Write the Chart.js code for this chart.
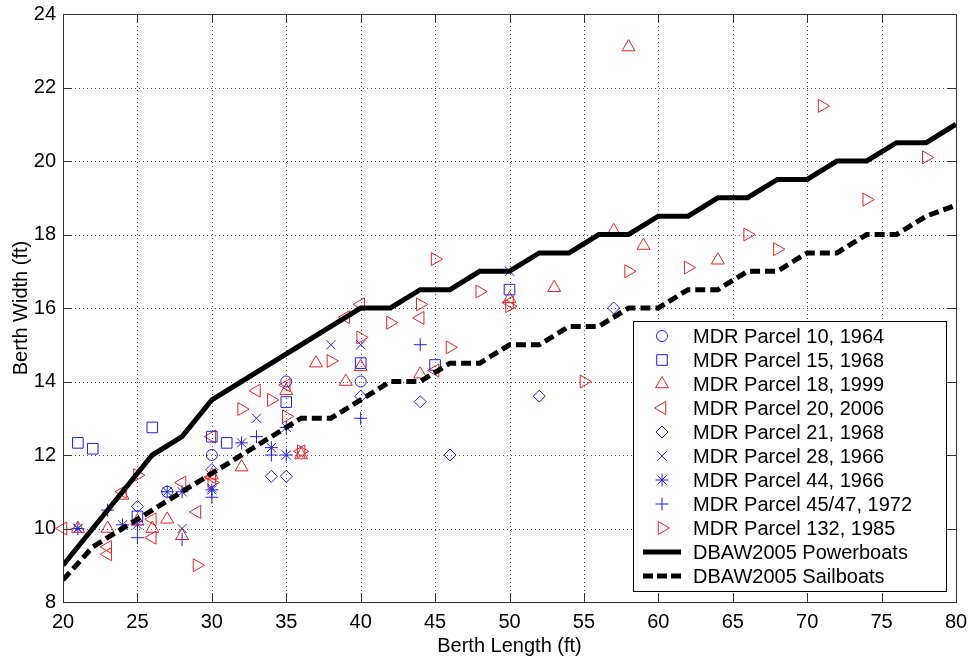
<!DOCTYPE html>
<html>
<head>
<meta charset="utf-8">
<title>Berth Width vs Berth Length</title>
<script src="https://cdn.jsdelivr.net/npm/chart.js@4.4.1/dist/chart.umd.min.js"></script>
<style>
    html, body { margin: 0; padding: 0; background: #fff; }
    #wrap { width: 971px; height: 659px; }
</style>
</head>
<body>
<div id="wrap"><canvas id="berthChart" width="971" height="659"></canvas></div>
<script>
// DBAW 2005 guideline curves
const guideLength = [20, 22, 24, 26, 28, 30, 32, 34, 36, 38, 40, 42, 44, 46, 48, 50,
                     52, 54, 56, 58, 60, 62, 64, 66, 68, 70, 72, 74, 76, 78, 80];
const powerWidth = [9, 10, 11, 12, 12.5, 13.5, 14, 14.5, 15, 15.5, 16, 16, 16.5, 16.5, 17, 17,
                    17.5, 17.5, 18, 18, 18.5, 18.5, 19, 19, 19.5, 19.5, 20, 20, 20.5, 20.5, 21];
const sailWidth = [8.6, 9.5, 10, 10.5, 11, 11.5, 12, 12.5, 13, 13, 13.5, 14, 14, 14.5, 14.5, 15,
                   15, 15.5, 15.5, 16, 16, 16.5, 16.5, 17, 17, 17.5, 17.5, 18, 18, 18.5, 18.8];

// Marina del Rey parcels: [berth length, berth width]
const parcel10 = [[27, 11], [30, 12], [35, 14], [40, 14]];
const parcel15 = [[21, 12.33], [22, 12.17], [26, 12.75], [25, 10.33], [30, 12.5], [31, 12.33],
                  [35, 13.44], [40, 14.5], [45, 14.45], [50, 16.5]];
const parcel18 = [[21, 10], [23, 10], [24, 10.9], [25, 10.2], [26, 10], [27, 10.25], [28, 9.8],
                  [30, 11.45], [32, 11.67], [35, 13.75], [36, 12], [37, 14.5], [39, 14], [40, 14.4],
                  [44, 14.2], [50, 16.25], [53, 16.55], [57, 18.1], [58, 23.1], [59, 17.7], [64, 17.3]];
const parcel20 = [[20, 10], [23, 9.5], [23, 9.3], [24, 11], [26, 10.25], [26, 9.75], [28, 11.25],
                  [29, 10.45], [30, 12.5], [30, 11.4], [33, 13.75], [35, 13.9], [36, 12.1],
                  [39, 15.75], [40, 16.1], [44, 15.73], [45, 14.3], [50, 16.15]];
const parcel21 = [[25, 10.6], [30, 11.6], [34, 11.42], [35, 11.42], [40, 13.6], [44, 13.45],
                  [46, 12], [52, 13.6], [57, 16]];
const parcel28 = [[21, 10], [28, 10], [30, 11.1], [33, 13], [38, 15], [40, 15], [50, 17]];
const parcel44 = [[21, 10], [24, 10.1], [25, 10.1], [27, 11], [28, 11], [30, 11.05], [32, 12.33],
                  [34, 12.2], [35, 12.75], [35, 12]];
const parcel4547 = [[23, 10.5], [25, 9.75], [28, 9.7], [30, 10.85], [33, 12.5], [34, 12],
                    [40, 13], [44, 15]];
const parcel132 = [[25, 11.45], [29, 9], [30, 11.25], [32, 13.25], [34, 13.5], [35, 13.05],
                   [36, 12.1], [38, 14.56], [40, 15.2], [42, 15.6], [44, 16.1], [45, 17.33],
                   [46, 14.93], [48, 16.45], [50, 16.05], [55, 14], [58, 17], [62, 17.1],
                   [66, 18], [68, 17.6], [71, 21.5], [74, 18.95], [78, 20.1]];

const xTicks = [20, 25, 30, 35, 40, 45, 50, 55, 60, 65, 70, 75, 80];
const yTicks = [8, 10, 12, 14, 16, 18, 20, 22, 24];

const BLUE = '#1f1fe0';
const RED = '#e02525';
const FONT = '"Liberation Sans", Arial, sans-serif';

function toPoints(pairs) {
    return pairs.map(p => ({ x: p[0], y: p[1] }));
}

function markerSet(label, pairs, style, rotation, radius, color) {
    return {
        label: label,
        data: toPoints(pairs),
        showLine: false,
        pointStyle: style,
        rotation: rotation,
        pointRadius: radius,
        pointHoverRadius: radius,
        pointBorderWidth: 1,
        pointBackgroundColor: 'rgba(0,0,0,0)',
        pointBorderColor: color,
        borderColor: color,
        clip: false,
        order: 1
    };
}

function lineSet(label, ys, dash) {
    return {
        label: label,
        data: guideLength.map((x, i) => ({ x: x, y: ys[i] })),
        showLine: true,
        borderColor: '#000',
        borderWidth: 5,
        borderDash: dash,
        borderCapStyle: 'butt',
        borderJoinStyle: 'miter',
        pointRadius: 0,
        fill: false,
        order: 0,
        legendLine: true
    };
}

const datasets = [
    markerSet('MDR Parcel 10, 1964', parcel10, 'circle', 0, 5.5, BLUE),
    markerSet('MDR Parcel 15, 1968', parcel15, 'rect', 0, 7.5, BLUE),
    markerSet('MDR Parcel 18, 1999', parcel18, 'triangle', 0, 7.5, RED),
    markerSet('MDR Parcel 20, 2006', parcel20, 'triangle', -90, 7.5, RED),
    markerSet('MDR Parcel 21, 1968', parcel21, 'rectRot', 0, 6, BLUE),
    markerSet('MDR Parcel 28, 1966', parcel28, 'crossRot', 0, 6.5, BLUE),
    markerSet('MDR Parcel 44, 1966', parcel44, 'star', 0, 6.5, BLUE),
    markerSet('MDR Parcel 45/47, 1972', parcel4547, 'cross', 0, 6.5, BLUE),
    markerSet('MDR Parcel 132, 1985', parcel132, 'triangle', 90, 7.5, RED),
    lineSet('DBAW2005 Powerboats', powerWidth, []),
    lineSet('DBAW2005 Sailboats', sailWidth, [10, 5])
];

// MATLAB-style dotted grid, full box and inward ticks
const matlabAxes = {
    id: 'matlabAxes',
    beforeDatasetsDraw(chart) {
        const { ctx, chartArea: a, scales: { x, y } } = chart;
        ctx.save();
        ctx.strokeStyle = '#555';
        ctx.lineWidth = 1;
        ctx.setLineDash([1, 3]);
        ctx.beginPath();
        xTicks.slice(1, -1).forEach(v => {
            const px = Math.round(x.getPixelForValue(v)) + 0.5;
            ctx.moveTo(px, a.top);
            ctx.lineTo(px, a.bottom);
        });
        yTicks.slice(1, -1).forEach(v => {
            const py = Math.round(y.getPixelForValue(v)) + 0.5;
            ctx.moveTo(a.left, py);
            ctx.lineTo(a.right, py);
        });
        ctx.stroke();
        ctx.restore();
    },
    afterDatasetsDraw(chart) {
        const { ctx, chartArea: a, scales: { x, y } } = chart;
        const len = 9;
        ctx.save();
        ctx.strokeStyle = '#333';
        ctx.lineWidth = 1;
        ctx.beginPath();
        xTicks.forEach(v => {
            const px = Math.round(x.getPixelForValue(v)) + 0.5;
            ctx.moveTo(px, a.bottom);
            ctx.lineTo(px, a.bottom - len);
            ctx.moveTo(px, a.top);
            ctx.lineTo(px, a.top + len);
        });
        yTicks.forEach(v => {
            const py = Math.round(y.getPixelForValue(v)) + 0.5;
            ctx.moveTo(a.left, py);
            ctx.lineTo(a.left + len, py);
            ctx.moveTo(a.right, py);
            ctx.lineTo(a.right - len, py);
        });
        ctx.stroke();
        ctx.strokeRect(Math.round(a.left) + 0.5, Math.round(a.top) + 0.5,
                       Math.round(a.right - a.left), Math.round(a.bottom - a.top));
        ctx.restore();
    }
};

// legend box in the lower right corner of the axes
const boxLegend = {
    id: 'boxLegend',
    afterDraw(chart) {
        const { ctx, chartArea: a } = chart;
        const left = a.right - 323;
        const top = a.bottom - 281;
        const width = 313;
        const height = 270;
        ctx.save();
        ctx.fillStyle = '#fff';
        ctx.fillRect(left, top, width, height);
        ctx.strokeStyle = '#000';
        ctx.lineWidth = 1;
        ctx.setLineDash([]);
        ctx.strokeRect(Math.round(left) + 0.5, Math.round(top) + 0.5, width, height);

        chart.data.datasets.forEach((ds, i) => {
            const cy = top + 15 + i * 24;
            if (ds.legendLine) {
                ctx.save();
                ctx.strokeStyle = '#000';
                ctx.lineWidth = 5;
                ctx.setLineDash(ds.borderDash.length ? [10, 4] : []);
                ctx.beginPath();
                ctx.moveTo(left + 10, cy);
                ctx.lineTo(left + 48, cy);
                ctx.stroke();
                ctx.restore();
            } else {
                ctx.save();
                ctx.strokeStyle = ds.pointBorderColor;
                ctx.fillStyle = 'rgba(0,0,0,0)';
                ctx.lineWidth = 1;
                Chart.helpers.drawPoint(ctx, {
                    pointStyle: ds.pointStyle,
                    rotation: ds.rotation,
                    radius: ds.pointRadius,
                    borderWidth: 1
                }, left + 29, cy);
                ctx.restore();
            }
            ctx.fillStyle = '#000';
            ctx.font = '20px ' + FONT;
            ctx.textAlign = 'left';
            ctx.textBaseline = 'middle';
            ctx.fillText(ds.label, left + 60, cy + 1);
        });
        ctx.restore();
    }
};

const ctx = document.getElementById('berthChart').getContext('2d');
new Chart(ctx, {
    type: 'scatter',
    data: { datasets: datasets },
    options: {
        responsive: false,
        animation: false,
        devicePixelRatio: 1,
        layout: { padding: { left: 0, right: 15, top: 14, bottom: 0 } },
        plugins: {
            legend: { display: false },
            tooltip: { enabled: false }
        },
        scales: {
            x: {
                type: 'linear',
                min: 20,
                max: 80,
                afterBuildTicks: scale => { scale.ticks = xTicks.map(v => ({ value: v })); },
                afterFit: scale => {
                    scale.height = 57;
                    scale.paddingLeft = 0;
                    scale.paddingRight = 0;
                },
                grid: { display: false, drawTicks: false },
                border: { display: false },
                ticks: {
                    padding: 8,
                    color: '#000',
                    font: { family: FONT, size: 20 },
                    maxRotation: 0
                },
                title: {
                    display: true,
                    text: 'Berth Length (ft)',
                    color: '#000',
                    font: { family: FONT, size: 20 },
                    padding: { top: 0, bottom: 1 }
                }
            },
            y: {
                type: 'linear',
                min: 8,
                max: 24,
                afterBuildTicks: scale => { scale.ticks = yTicks.map(v => ({ value: v })); },
                afterFit: scale => {
                    scale.width = 63;
                    scale.paddingTop = 0;
                    scale.paddingBottom = 0;
                },
                grid: { display: false, drawTicks: false },
                border: { display: false },
                ticks: {
                    padding: 7,
                    color: '#000',
                    font: { family: FONT, size: 20 }
                },
                title: {
                    display: true,
                    text: 'Berth Width (ft)',
                    color: '#000',
                    font: { family: FONT, size: 20 },
                    padding: { top: 9, bottom: 0 }
                }
            }
        }
    },
    plugins: [matlabAxes, boxLegend]
});
</script>
</body>
</html>
